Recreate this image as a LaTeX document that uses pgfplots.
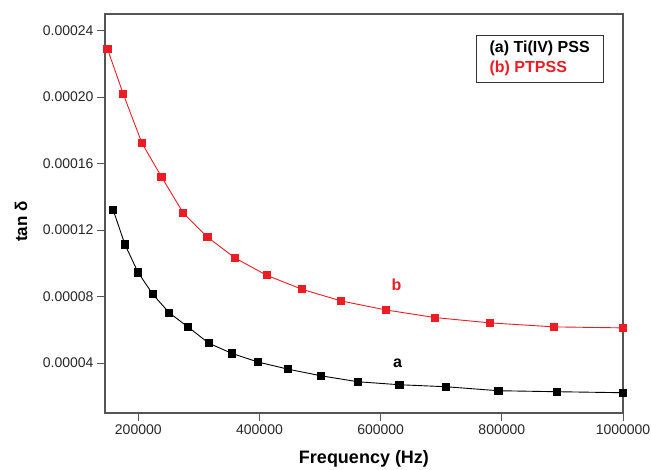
\documentclass[border=0pt]{standalone}
\usepackage{pgfplots}
\pgfplotsset{compat=1.18}
\usepackage{fontspec}
\setmainfont{Liberation Sans}
\definecolor{myred}{RGB}{237,28,36}
\definecolor{axgray}{RGB}{85,85,85}
\begin{document}
\begin{tikzpicture}
\useasboundingbox (-105pt,-56pt) rectangle (546pt,413pt);
\begin{axis}[
  at={(0,0)}, anchor=south west,
  scale only axis,
  width=518pt, height=399pt,
  xmin=145000, xmax=1000000,
  ymin=0.00001, ymax=0.00025,
  xtick={200000,400000,600000,800000,1000000},
  ytick={0.00004,0.00008,0.00012,0.00016,0.00020,0.00024},
  scaled x ticks=false, scaled y ticks=false,
  /pgf/number format/assume math mode=true,
  x tick label style={/pgf/number format/set thousands separator={}, /pgf/number format/fixed},
  y tick label style={/pgf/number format/fixed, /pgf/number format/fixed zerofill, /pgf/number format/precision=5},
  tick label style={font=\fontsize{14}{16}\selectfont, text=black!85},
  tick align=outside,
  xtick pos=bottom, ytick pos=left,
  major tick length=8pt,
  tick style={axgray, line width=1pt},
  axis line style={axgray, line width=1.3pt},
  xlabel={Frequency (Hz)},
  ylabel={tan δ},
  xlabel style={font=\fontsize{18}{20}\selectfont\bfseries, at={(axis description cs:0.5,-0.115)}, anchor=center},
  ylabel style={font=\fontsize{17}{20}\selectfont\bfseries, at={(axis description cs:-0.162,0.48)}, anchor=center, rotate=0},
  clip=false,
]
\addplot[black, line width=0.9pt, mark=square*, mark size=3.6pt, mark options={solid}] coordinates {
(158489,0.0001322) (177828,0.0001114) (199526,0.0000946) (223872,0.0000814)
(251189,0.0000702) (281838,0.0000618) (316228,0.0000520) (354813,0.0000458)
(398107,0.0000406) (446684,0.0000364) (501187,0.0000324) (562341,0.0000288)
(630957,0.0000270) (707946,0.0000258) (794328,0.0000234) (891251,0.0000228)
(1000000,0.0000222)
};
\addplot[myred, line width=0.9pt, mark=square*, mark size=3.6pt, mark options={solid}] coordinates {
(149100,0.0002290) (175000,0.0002020) (205900,0.0001724) (238300,0.0001520)
(274000,0.0001304) (314100,0.0001158) (359800,0.0001032) (412100,0.0000928)
(470350,0.0000844) (534700,0.0000774) (608300,0.0000720) (689800,0.0000674)
(780500,0.0000642) (886150,0.0000618) (1000000,0.0000612)
};
\node[font=\fontsize{16}{18}\selectfont\bfseries, text=black] at (axis cs:628000,0.0000402) {a};
\node[font=\fontsize{16}{18}\selectfont\bfseries, text=myred] at (axis cs:626000,0.0000870) {b};
\node[draw=black!80, line width=0.8pt, anchor=north west, align=left, inner xsep=9pt, inner ysep=6pt,
  font=\fontsize{16}{20}\selectfont\bfseries, minimum width=127pt]
  at (axis cs:757000,0.0002376) {(a) Ti(IV) PSS\\\textcolor{myred}{(b) PTPSS}};
\end{axis}
\end{tikzpicture}
\end{document}
